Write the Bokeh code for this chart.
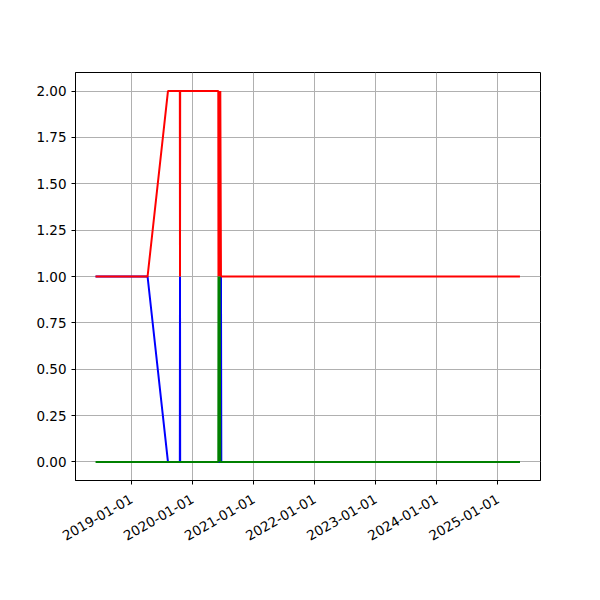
import math
from datetime import datetime
from bokeh.plotting import figure
from bokeh.models import FixedTicker, DatetimeTickFormatter, NumeralTickFormatter, Range1d
from bokeh.embed import file_html
from bokeh.resources import INLINE

dates = ["2018-06-01", "2019-04-08", "2019-08-08", "2019-10-18", "2019-10-19", "2019-10-20",
         "2020-06-04", "2020-06-05", "2020-06-09", "2020-06-12", "2020-06-16", "2020-06-20",
         "2020-06-22", "2025-05-13"]
red_vals   = [1, 1, 2, 2, 1, 2, 2, 1, 2, 1, 2, 1, 1, 1]
blue_vals  = [1, 1, 0, 0, 1, 0, 0, 0, 0, 0, 0, 1, 0, 0]
green_vals = [0, 0, 0, 0, 0, 0, 0, 1, 0, 1, 0, 0, 0, 0]
tick_years = [2019, 2020, 2021, 2022, 2023, 2024, 2025]
y_ticks = [0, 0.25, 0.5, 0.75, 1.0, 1.25, 1.5, 1.75, 2.0]

x = [datetime.strptime(d, "%Y-%m-%d") for d in dates]

p = figure(width=592, height=592, x_axis_type="datetime", output_backend="svg",
           toolbar_location=None, min_border_left=75, min_border_right=52,
           min_border_top=72, min_border_bottom=112)
p.x_range = Range1d(datetime(2018, 2, 1), datetime(2025, 9, 13))
p.y_range = Range1d(-0.1, 2.1)

p.line(x, blue_vals, line_color="blue", line_width=2)
p.line(x, red_vals, line_color="red", line_width=2)
p.line(x, green_vals, line_color="green", line_width=2)

tick_ms = [datetime(y, 1, 1).timestamp() * 1000 for y in tick_years]
p.xaxis.ticker = FixedTicker(ticks=tick_ms)
fmt = "%Y-%m-%d"
p.xaxis.formatter = DatetimeTickFormatter(years=fmt, months=fmt, days=fmt, hours=fmt,
                                          minutes=fmt, seconds=fmt, milliseconds=fmt,
                                          microseconds=fmt, hourmin=fmt, minsec=fmt)
p.xaxis.major_label_orientation = math.pi / 6
p.xaxis.major_label_standoff = 13
p.yaxis.ticker = FixedTicker(ticks=y_ticks)
p.yaxis.formatter = NumeralTickFormatter(format="0.00")

for ax in (p.xaxis, p.yaxis):
    ax.major_label_text_font = "DejaVu Sans"
    ax.major_label_text_font_size = "13.5px"
    ax.major_label_text_color = "black"
    ax.axis_line_color = "black"
    ax.major_tick_line_color = "black"
    ax.major_tick_out = 4
    ax.major_tick_in = 0
    ax.minor_tick_line_color = None

p.grid.grid_line_color = "#b0b0b0"
p.grid.grid_line_width = 1
p.outline_line_color = "black"
p.outline_line_width = 1
p.outline_line_alpha = 1
p.background_fill_color = "white"
p.border_fill_color = "white"

open("out.html", "w").write(file_html(p, INLINE))
